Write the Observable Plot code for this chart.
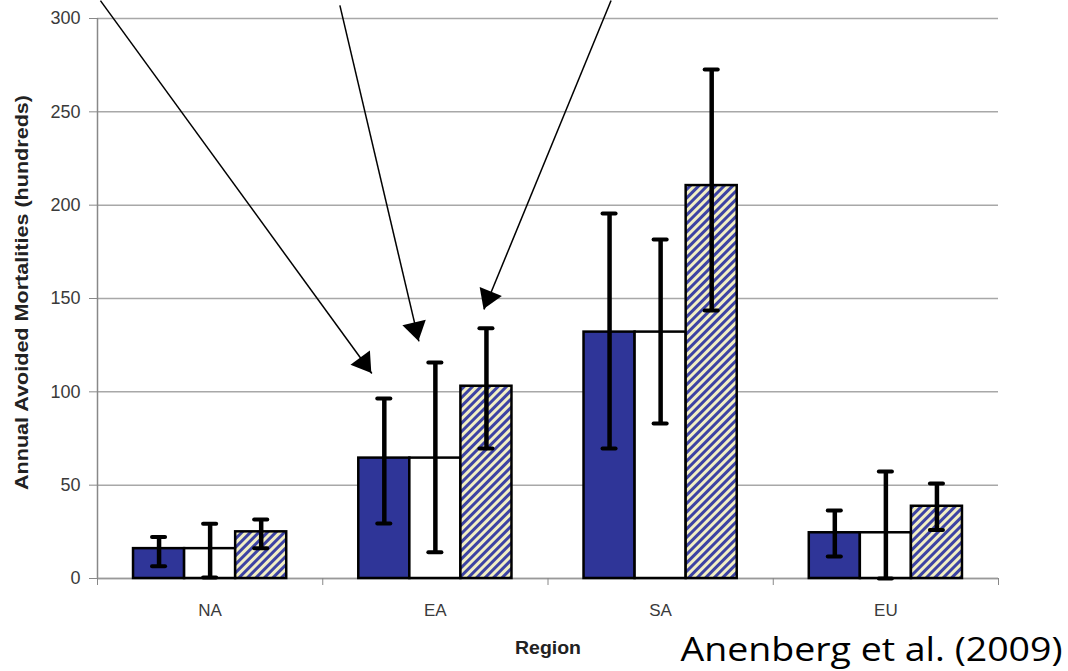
<!DOCTYPE html>
<html>
<head>
<meta charset="utf-8">
<script src="https://cdn.jsdelivr.net/npm/d3@7"></script>
<script src="https://cdn.jsdelivr.net/npm/@observablehq/plot@0.6"></script>
<style>
  body { margin: 0; background: #fff; }
  #chart svg { display: block; }
  #chart g[aria-label="y-axis tick label"] text { font-size: 18px; }
  #chart g[aria-label="x-axis tick label"] text { font-size: 17px; }
</style>
</head>
<body>
<div id="chart"></div>
<script>
// ---- data ----
const regions = ["NA", "EA", "SA", "EU"];
const seriesNames = ["Series 1", "Series 2", "Series 3"];
const seriesValues = [
  [16, 64.5, 132, 24.5],
  [16, 64.5, 132, 24.5],
  [25, 103, 210.5, 38.7]
];
const errLow = [
  [6.6, 29.5, 69.6, 11.8],
  [0.5, 14, 83, 0],
  [16.2, 69.6, 143.6, 26]
];
const errHigh = [
  [22.2, 96.4, 195.5, 36.4],
  [29.3, 115.7, 181.6, 57.3],
  [31.6, 134, 272.7, 50.9]
];
const yTicks = [0, 50, 100, 150, 200, 250, 300];
// annotation arrows (data units: x = region index, y = value)
const arrowStartX = [-0.487, 0.576, 1.78];
const arrowStartY = [309.6, 307, 309.6];
const arrowEndX = [0.718, 0.927, 1.216];
const arrowEndY = [109.8, 127, 144.1];
const yLabel = "Annual Avoided Mortalities (hundreds)";
const xLabel = "Region";
const citation = "Anenberg et al. (2009)";

// ---- styles ----
const seriesFill = ["#2f3598", "#ffffff", "url(#hatch)"];
const barW = 0.2267;

const rows = [];
regions.forEach((r, i) => seriesNames.forEach((s, j) => {
  const c = i + (j - 1) * barW;
  rows.push({region: r, series: s, j, c, x1: c - barW / 2, x2: c + barW / 2,
    value: seriesValues[j][i], lo: errLow[j][i], hi: errHigh[j][i]});
}));
const caps = rows.flatMap(d => [{...d, y: d.lo}, {...d, y: d.hi}]);
const arrows = arrowStartX.map((_, k) => ({x1: arrowStartX[k], y1: arrowStartY[k], x2: arrowEndX[k], y2: arrowEndY[k]}));
const boundaries = d3.range(regions.length + 1).map(k => k - 0.5);

const hatchDefs = () => {
  const defs = d3.create("svg:defs");
  const p = defs.append("pattern").attr("id", "hatch").attr("patternUnits", "userSpaceOnUse")
    .attr("width", 6).attr("height", 6).attr("patternTransform", "rotate(45)");
  p.append("rect").attr("width", 6).attr("height", 6).attr("fill", "#f2efc4");
  p.append("rect").attr("width", 3).attr("height", 6).attr("fill", "#3d43a3");
  return defs.node();
};

const arrowHeads = (index, scales) => {
  const g = d3.create("svg:g");
  arrows.forEach(a => {
    const x1 = scales.x(a.x1), y1 = scales.y(a.y1), x2 = scales.x(a.x2), y2 = scales.y(a.y2);
    const ang = Math.atan2(y2 - y1, x2 - x1);
    const L = 19, W = 12;
    const bx = x2 - L * Math.cos(ang), by = y2 - L * Math.sin(ang);
    const px = -Math.sin(ang) * W, py = Math.cos(ang) * W;
    g.append("polygon").attr("points", `${x2},${y2} ${bx + px},${by + py} ${bx - px},${by - py}`).attr("fill", "black");
  });
  return g.node();
};

const plot = Plot.plot({
  width: 1068, height: 671,
  marginLeft: 97, marginRight: 70, marginTop: 18, marginBottom: 93,
  style: {fontFamily: "'Liberation Sans', Arial, sans-serif", background: "white", overflow: "visible"},
  x: {domain: [-0.5, 3.5]},
  y: {domain: [0, 300]},
  marks: [
    hatchDefs,
    Plot.gridY(yTicks, {stroke: "#a8a8a8", strokeOpacity: 1, strokeWidth: 1.5}),
    Plot.ruleX([-0.5], {y1: 0, y2: 300, stroke: "#888", strokeWidth: 1.5}),
    Plot.ruleY([0], {stroke: "#999", strokeWidth: 1.5}),
    Plot.axisY(yTicks, {tickSize: 8, tickPadding: 9, fontSize: 18, fill: "#3a3a3a", stroke: "#888", label: null}),
    Plot.axisX(boundaries, {tickSize: 7, tickFormat: () => "", stroke: "#888", label: null}),
    Plot.axisX(d3.range(regions.length), {tickSize: 0, tickPadding: 25, tickFormat: i => regions[i], fontSize: 17, fill: "#3a3a3a", label: null}),
    ...seriesNames.map((s, j) => Plot.rectY(rows.filter(d => d.j === j), {
      x1: "x1", x2: "x2", y1: 0, y2: "value", fill: seriesFill[j], stroke: "black", strokeWidth: 2.5
    })),
    Plot.ruleX(rows, {x: "c", y1: "lo", y2: "hi", stroke: "black", strokeWidth: 4.5}),
    Plot.ruleY(caps, {y: "y", x1: d => d.c - 0.029, x2: d => d.c + 0.029, stroke: "black", strokeWidth: 4, strokeLinecap: "round"}),
    Plot.link(arrows, {x1: "x1", y1: "y1", x2: "x2", y2: "y2", stroke: "black", strokeWidth: 1.5, clip: false}),
    arrowHeads,
    Plot.text([yLabel], {frameAnchor: "left", dx: -75, dy: -6, rotate: -90, text: d => d,
      textAnchor: "middle", lineAnchor: "middle", fontSize: 18, fontWeight: "bold", fill: "#222"}),
    Plot.text([xLabel], {frameAnchor: "bottom", dy: 70, text: d => d, textAnchor: "middle", lineAnchor: "middle",
      fontSize: 18, fontWeight: "bold", fill: "#222"}),
    Plot.text([citation], {frameAnchor: "bottom-right", dx: 64, dy: 72, text: d => d, textAnchor: "end", lineAnchor: "middle",
      fontSize: 32, fontFamily: "'Open Sans', sans-serif", fill: "black"})
  ]
});
// stretch texts horizontally like the reference image
const sel = d3.select(plot).selectAll("text");
sel.filter(function () { return this.textContent === yLabel; })
  .attr("textLength", 395).attr("lengthAdjust", "spacingAndGlyphs");
sel.filter(function () { return this.textContent === citation; })
  .attr("textLength", 382).attr("lengthAdjust", "spacingAndGlyphs");
sel.filter(function () { return this.textContent === xLabel; })
  .attr("textLength", 66).attr("lengthAdjust", "spacingAndGlyphs");
document.getElementById("chart").appendChild(plot);
</script>
</body>
</html>
